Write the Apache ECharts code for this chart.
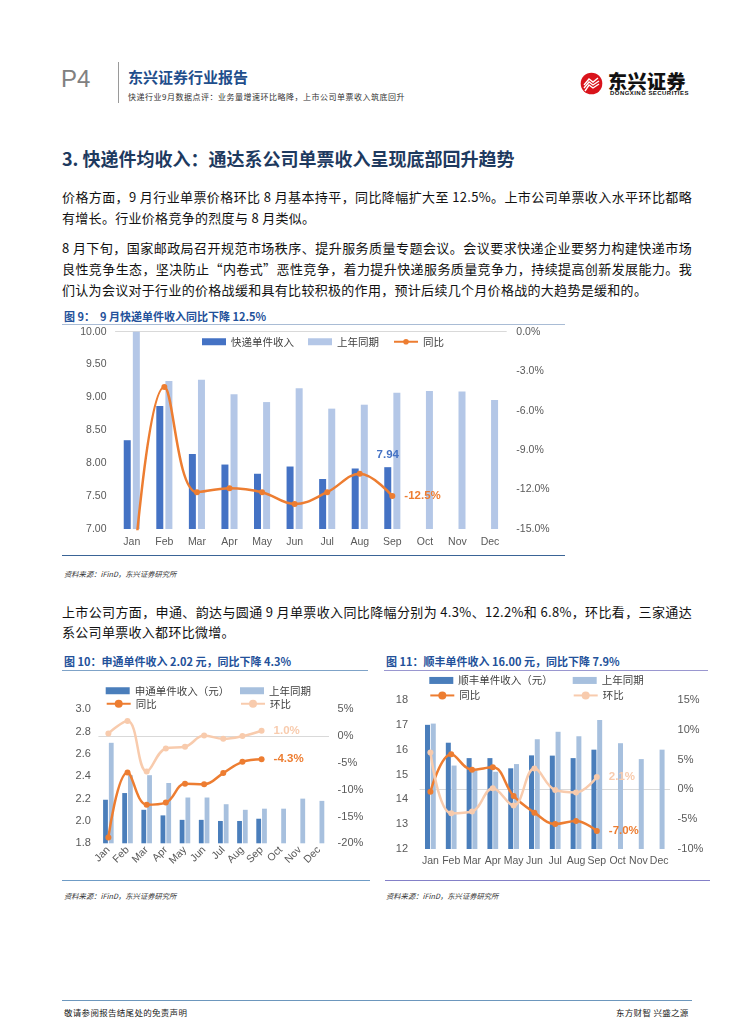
<!DOCTYPE html>
<html><head><meta charset="utf-8">
<script src="https://cdn.jsdelivr.net/npm/echarts@6/dist/echarts.min.js"></script>
<style>
body{margin:0;width:755px;height:1024px;position:relative;background:#fff;font-family:"Noto Sans CJK SC",sans-serif;overflow:hidden}
.a{position:absolute;white-space:nowrap}
.p{position:absolute;left:62px;width:630px;font-size:13px;line-height:21px;height:21px;color:#111;letter-spacing:0.3px;white-space:nowrap}
.j{text-align:justify;text-align-last:justify}
.ft{font-size:11px;font-weight:bold;color:#23519A;line-height:14px}
.src{font-size:7.3px;font-style:italic;color:#333;line-height:10px}
.ln{position:absolute}
.ch{position:absolute}
</style></head><body>
<!-- header -->
<div class="a" style="left:61px;top:65px;font-family:'Liberation Sans',Arial;font-size:24px;line-height:28px;color:#808080">P4</div>
<div class="ln" style="left:118px;top:62px;width:1px;height:41px;background:#9a9a9a"></div>
<div class="a" style="left:128px;top:68px;font-size:15px;line-height:18px;font-weight:bold;color:#1F4E8C">东兴证券行业报告</div>
<div class="a" style="left:128px;top:92px;font-size:8px;line-height:10px;color:#333;letter-spacing:0.5px">快递行业9月数据点评：业务量增速环比略降，上市公司单票收入筑底回升</div>
<svg class="a" style="left:580px;top:72px" width="23" height="23" viewBox="0 0 23 23">
<circle cx="11.5" cy="11.5" r="10.8" fill="#D9131B"/>
<path d="M4 13 L9 7 L13 10 L18 6" stroke="#fff" stroke-width="1.4" fill="none"/>
<path d="M4 16 L9 10 L13 13 L19 9" stroke="#fff" stroke-width="1.4" fill="none"/>
<path d="M5 19 L9 13 L13 16 L19 12" stroke="#fff" stroke-width="1.4" fill="none"/>
</svg>
<div class="a" style="left:608px;top:70px;font-size:19px;line-height:22px;font-weight:900;color:#111;letter-spacing:0.5px">东兴证券</div>
<div class="a" style="left:610px;top:90px;font-family:'Liberation Sans',Arial;font-size:6px;line-height:7px;font-weight:bold;color:#111;letter-spacing:0.45px">DONGXING SECURITIES</div>

<!-- section title -->
<div class="a" style="left:62px;top:146px;font-size:18px;line-height:24px;font-weight:bold;color:#1E3A5F">3. 快递件均收入：通达系公司单票收入呈现底部回升趋势</div>

<div class="p j" style="top:185.5px">价格方面，9 月行业单票价格环比 8 月基本持平，同比降幅扩大至 12.5%。上市公司单票收入水平环比都略</div>
<div class="p" style="top:206.5px">有增长。行业价格竞争的烈度与 8 月类似。</div>
<div class="p j" style="top:236.5px">8 月下旬，国家邮政局召开规范市场秩序、提升服务质量专题会议。会议要求快递企业要努力构建快递市场</div>
<div class="p j" style="top:257.5px">良性竞争生态，坚决防止“内卷式”恶性竞争，着力提升快递服务质量竞争力，持续提高创新发展能力。我</div>
<div class="p" style="top:278.5px">们认为会议对于行业的价格战缓和具有比较积极的作用，预计后续几个月价格战的大趋势是缓和的。</div>

<!-- fig 9 -->
<div class="a ft" style="left:64px;top:309px">图 9：&nbsp; 9 月快递单件收入同比下降 12.5%</div>
<div class="ln" style="left:62px;top:323.5px;width:503px;height:1.5px;background:#A9BCD5"></div>
<div class="ch" id="c9" style="left:62px;top:326px;width:503px;height:228px"></div>
<div class="ln" style="left:62px;top:554.5px;width:503px;height:1.5px;background:#3A6496"></div>
<div class="a src" style="left:64px;top:569px">资料来源：iFinD，东兴证券研究所</div>

<div class="p j" style="top:600.5px">上市公司方面，申通、韵达与圆通 9 月单票收入同比降幅分别为 4.3%、12.2%和 6.8%，环比看，三家通达</div>
<div class="p" style="top:620.5px">系公司单票收入都环比微增。</div>

<!-- fig 10 -->
<div class="a ft" style="left:64px;top:653.5px">图 10：申通单件收入 2.02 元，同比下降 4.3%</div>
<div class="ln" style="left:62px;top:669.5px;width:306px;height:1.5px;background:#7FA3C8"></div>
<div class="ch" id="c10" style="left:62px;top:672px;width:306px;height:205px"></div>
<div class="ln" style="left:62px;top:879.5px;width:308px;height:1.5px;background:#6F9CC6"></div>
<div class="a src" style="left:64px;top:891px">资料来源：iFinD，东兴证券研究所</div>

<!-- fig 11 -->
<div class="a ft" style="left:386px;top:653.5px">图 11：顺丰单件收入 16.00 元，同比下降 7.9%</div>
<div class="ln" style="left:384px;top:669.5px;width:324px;height:1.5px;background:#9A97D0"></div>
<div class="ch" id="c11" style="left:384px;top:672px;width:326px;height:205px"></div>
<div class="ln" style="left:385px;top:879.5px;width:325px;height:1.5px;background:#8480C8"></div>
<div class="a src" style="left:386px;top:891px">资料来源：iFinD，东兴证券研究所</div>

<!-- footer -->
<div class="ln" style="left:62px;top:1000px;width:630px;height:1.2px;background:#6D97BD"></div>
<div class="a" style="left:64px;top:1007px;font-size:8.5px;line-height:10px;color:#222;letter-spacing:0.3px">敬请参阅报告结尾处的免责声明</div>
<div class="a" style="left:616px;top:1007px;font-size:8.5px;line-height:10px;color:#222;letter-spacing:0.3px">东方财智 兴盛之源</div>

<script>
// ---------- data ----------
const months = ['Jan','Feb','Mar','Apr','May','Jun','Jul','Aug','Sep','Oct','Nov','Dec'];

// Fig 9: 快递单件收入 (元), 上年同期, 同比 (%)
const f9Income   = [8.35, 8.87, 8.14, 7.98, 7.84, 7.95, 7.76, 7.92, 7.94];
const f9LastYear = [10.18, 9.25, 9.27, 9.05, 8.93, 9.14, 8.83, 8.89, 9.07, 9.10, 9.09, 8.96];
const f9Yoy      = [-20.0, -4.2, -12.2, -11.9, -12.2, -13.1, -12.2, -10.8, -12.5];
const f9LeftAxis  = {min: 7, max: 10, interval: 0.5};
const f9RightAxis = {min: -15, max: 0, interval: 3};

// Fig 10: 申通单件收入 (元), 上年同期, 同比 (%), 环比 (%)
const f10Income   = [2.19, 2.25, 2.10, 2.05, 2.01, 2.01, 2.00, 2.00, 2.02];
const f10LastYear = [2.70, 2.41, 2.41, 2.34, 2.21, 2.21, 2.15, 2.10, 2.11, 2.11, 2.20, 2.18];
const f10Yoy      = [-18.9, -6.8, -12.8, -12.4, -8.9, -9.0, -6.9, -4.8, -4.3];
const f10Mom      = [0.5, 2.8, -6.6, -2.3, -2.0, 0.1, -0.5, 0.0, 1.0];
const f10LeftAxis  = {min: 1.8, max: 3.0, interval: 0.2};
const f10RightAxis = {min: -20, max: 5, interval: 5};

// Fig 11: 顺丰单件收入 (元), 上年同期, 同比 (%), 环比 (%)
const f11Income   = [17.00, 16.28, 15.66, 15.66, 15.25, 15.77, 15.76, 15.66, 16.00];
const f11LastYear = [17.05, 15.36, 15.17, 15.11, 15.42, 16.42, 16.72, 16.54, 17.19, 16.26, 15.62, 16.00];
const f11Yoy      = [-0.4, 5.9, 3.3, 3.7, -1.1, -3.9, -5.8, -5.3, -7.0];
const f11Mom      = [6.2, -4.0, -3.7, 0.2, -2.7, 3.5, -0.1, -0.5, 2.1];
const f11LeftAxis  = {min: 12, max: 18, interval: 1};
const f11RightAxis = {min: -10, max: 15, interval: 5};

// ---------- helpers ----------
const FONT = "'Liberation Sans', Arial, sans-serif";
const AXC = '#595959';
const ORANGE = '#ED7D31', PEACH = '#F8CBAD';

function lastLabel(arr, color, fmt, extra) {
  return arr.map((v, i) => i === arr.length - 1
    ? {value: v, label: Object.assign({show: true, position: 'right', distance: 9, color: color, fontWeight: 'bold',
        fontSize: 11.5, fontFamily: FONT, formatter: fmt}, extra || {})}
    : v);
}
function pct1(p) { return p.value.toFixed(1) + '%'; }

function yAxes(left, right, lfmt, rfmt, fs, lm, rm) {
  const common = {type: 'value', splitLine: {show: false}, axisLine: {show: false}, axisTick: {show: false}};
  return [
    Object.assign({}, common, left, {axisLabel: {color: AXC, fontSize: fs, fontFamily: FONT, margin: lm, formatter: lfmt}}),
    Object.assign({}, common, right, {position: 'right', axisLabel: {color: AXC, fontSize: fs, fontFamily: FONT, margin: rm, formatter: rfmt}})
  ];
}
function xAxis(fs, rotate, margin) {
  return {type: 'category', data: months, axisTick: {show: false},
    axisLine: {lineStyle: {color: '#D9D9D9', width: 1}},
    axisLabel: {color: AXC, fontSize: fs, fontFamily: FONT, interval: 0, rotate: rotate, margin: margin}};
}
function lineSeries(name, data, color, yIndex) {
  return {name: name, type: 'line', yAxisIndex: yIndex, data: data, smooth: 0.4, symbol: 'circle', symbolSize: 6,
    lineStyle: {color: color, width: 2.5}, itemStyle: {color: color}, clip: true, z: 5};
}
function oneLegend(name, left, top, isBar) {
  return {data: [name], left: left, top: top, itemWidth: 24, itemHeight: isBar ? 7 : 10,
    icon: isBar ? 'rect' : undefined, padding: 0,
    textStyle: {color: '#404040', fontSize: 10.5, fontFamily: "'Noto Sans CJK SC', sans-serif"}};
}

// ---------- Fig 9 ----------
const c9 = echarts.init(document.getElementById('c9'));
c9.setOption({
  animation: false,
  grid: {left: 53.5, top: 5.7, width: 390.8, height: 197.3, containLabel: false, outerBoundsMode: 'none'},
  legend: {left: 140, top: 10.5, itemWidth: 24, itemHeight: 7, itemGap: 14, padding: 0,
    data: [{name: '快递单件收入', icon: 'rect'}, {name: '上年同期', icon: 'rect'}, {name: '同比'}],
    textStyle: {color: '#404040', fontSize: 10.5, fontFamily: "'Noto Sans CJK SC', sans-serif"}},
  xAxis: xAxis(10.5, 0, 8),
  yAxis: yAxes(f9LeftAxis, f9RightAxis, v => v.toFixed(2), v => v.toFixed(1) + '%', 10.5, 9, 10),
  series: [
    {name: '快递单件收入', type: 'bar', barWidth: 7, barGap: '30%', clip: true, itemStyle: {color: '#4472C4'},
      data: f9Income.map((v, i) => i === f9Income.length - 1
        ? {value: v, label: {show: true, position: 'top', distance: 6, color: '#4472C4', fontWeight: 'bold', fontSize: 11.5,
            fontFamily: FONT, formatter: p => p.value.toFixed(2)}} : v)},
    {name: '上年同期', type: 'bar', barWidth: 7, clip: true, itemStyle: {color: '#B4C7E7'}, data: f9LastYear},
    lineSeries('同比', lastLabel(f9Yoy, ORANGE, pct1), ORANGE, 1)
  ]
});

// ---------- Fig 10 ----------
const c10 = echarts.init(document.getElementById('c10'));
c10.setOption({
  animation: false,
  grid: {left: 36.8, top: 37.3, width: 229.8, height: 134, containLabel: false, outerBoundsMode: 'none'},
  legend: [
    oneLegend('申通单件收入（元）', 43.7, 13.5, true),
    oneLegend('上年同期', 178, 13.5, true),
    oneLegend('同比', 43.7, 26.5, false),
    oneLegend('环比', 178, 26.5, false)
  ],
  xAxis: xAxis(10.5, 45, 5),
  yAxis: yAxes(f10LeftAxis, f10RightAxis, v => v.toFixed(1), v => v + '%', 11, 8, 9),
  series: [
    {name: '申通单件收入（元）', type: 'bar', barWidth: 4.8, barGap: '20%', itemStyle: {color: '#4A7EBB'}, data: f10Income},
    {name: '上年同期', type: 'bar', barWidth: 4.8, itemStyle: {color: '#A7C0DE'}, data: f10LastYear},
    lineSeries('同比', lastLabel(f10Yoy, ORANGE, pct1), ORANGE, 1),
    lineSeries('环比', lastLabel(f10Mom, PEACH, pct1), PEACH, 1)
  ]
});

// ---------- Fig 11 ----------
const c11 = echarts.init(document.getElementById('c11'));
c11.setOption({
  animation: false,
  grid: {left: 36, top: 28, width: 249.6, height: 149, containLabel: false, outerBoundsMode: 'none'},
  legend: [
    oneLegend('顺丰单件收入（元）', 45.3, 3.2, true),
    oneLegend('上年同期', 188.7, 3.2, true),
    oneLegend('同比', 45.3, 18.2, false),
    oneLegend('环比', 188.7, 18.2, false)
  ],
  xAxis: xAxis(10.5, 0, 7),
  yAxis: yAxes(f11LeftAxis, f11RightAxis, v => String(v), v => v + '%', 11, 12, 8),
  series: [
    {name: '顺丰单件收入（元）', type: 'bar', barWidth: 5, barGap: '15%', itemStyle: {color: '#4A7EBB'}, data: f11Income},
    {name: '上年同期', type: 'bar', barWidth: 5, itemStyle: {color: '#A7C0DE'}, data: f11LastYear},
    lineSeries('同比', lastLabel(f11Yoy, ORANGE, pct1), ORANGE, 1),
    lineSeries('环比', lastLabel(f11Mom, PEACH, pct1), PEACH, 1)
  ]
});
</script>
</body></html>
